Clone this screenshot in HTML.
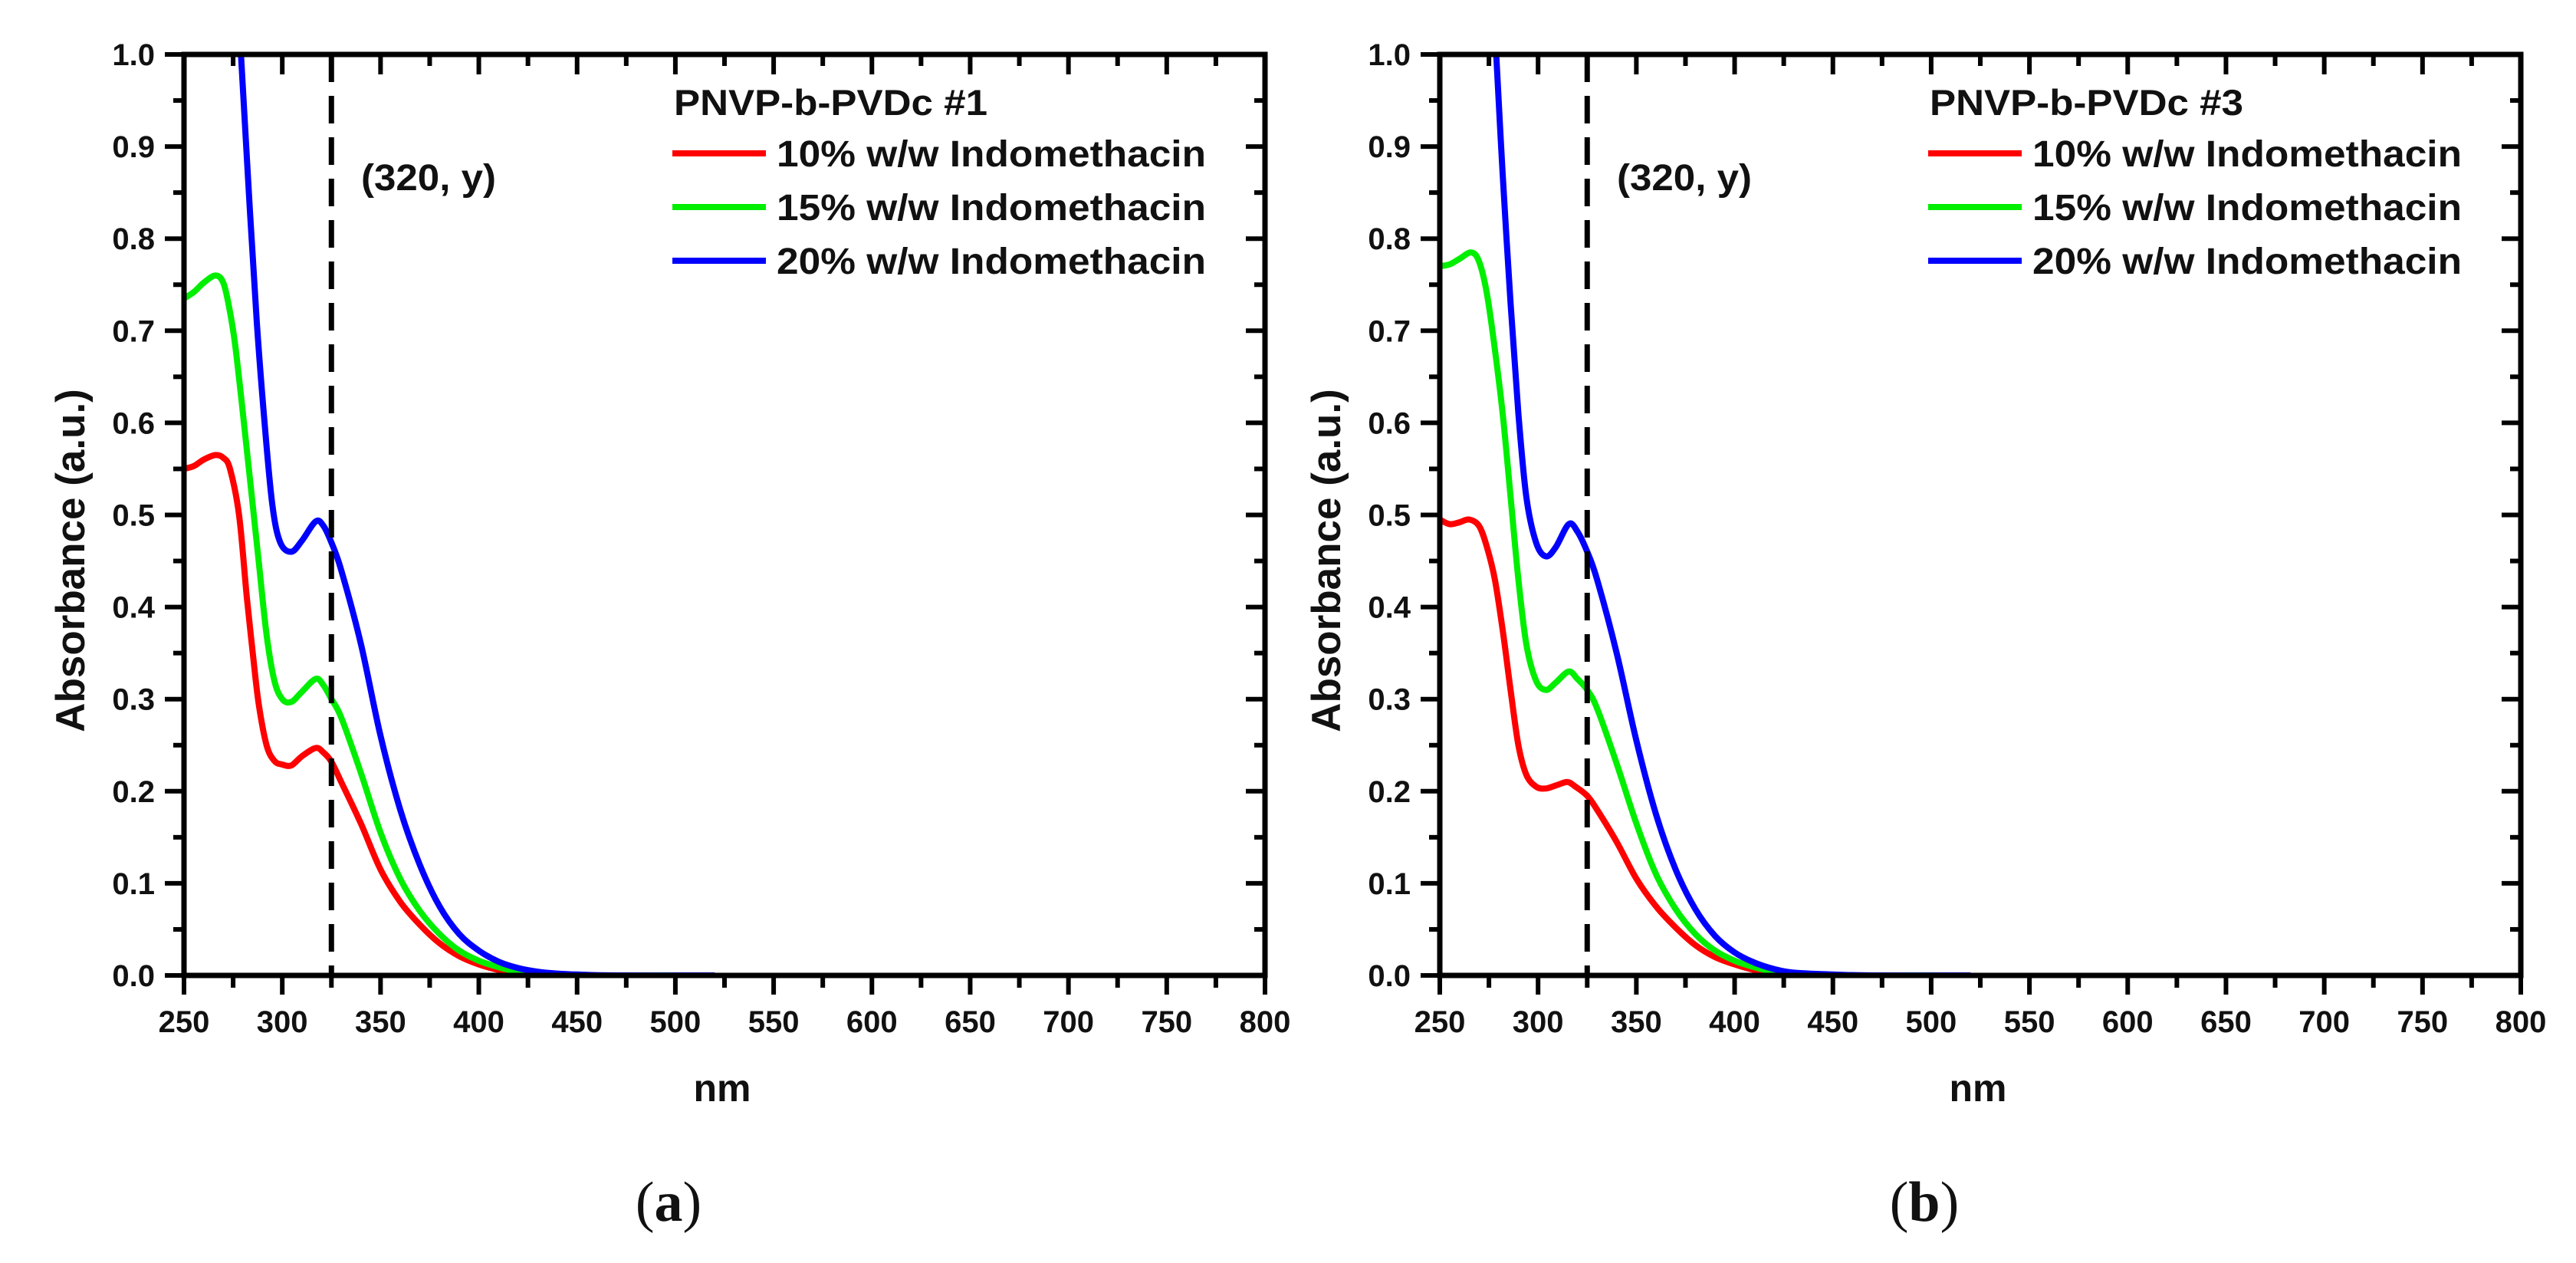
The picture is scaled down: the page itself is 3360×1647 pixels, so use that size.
<!DOCTYPE html>
<html><head><meta charset="utf-8">
<style>
html,body{margin:0;padding:0;background:#fff;}
svg{display:block;}
text{font-family:"Liberation Sans",Arial,sans-serif;font-weight:bold;fill:#111;}
</style></head>
<body>
<svg id="fig" width="3360" height="1647" viewBox="0 0 3360 1647" xmlns="http://www.w3.org/2000/svg"></svg>
<script>
// ---- data ----
const xTicks = [250,300,350,400,450,500,550,600,650,700,750,800];
const yTicks = [0.0,0.1,0.2,0.3,0.4,0.5,0.6,0.7,0.8,0.9,1.0];
const seriesNames = ["10% w/w Indomethacin","15% w/w Indomethacin","20% w/w Indomethacin"];
const seriesColors = ["#ff0000","#00ee00","#0000ff"];
const panelTitles = ["PNVP-b-PVDc #1","PNVP-b-PVDc #3"];
const panelLabels = ["a","b"];
const markerX = 325;

const aRedX = [250,255,260,266,270,273.4,278,282,285,288,292,296,300,304.6,310,317,321,325,330,340,350,360,370,380,390,400,410,420,430,450,480,520];
const aRedY = [0.55,0.553,0.56,0.565,0.562,0.55,0.50,0.41,0.35,0.295,0.25,0.233,0.229,0.228,0.238,0.247,0.242,0.232,0.21,0.165,0.115,0.08,0.055,0.035,0.021,0.012,0.006,0.003,0.001,0,0,0];
const aGreenX = [250,255,260,266,270,273,276,280,284,288,292,296,300,304.6,310,317,321,325,330,340,350,360,370,380,390,400,410,420,430,450,480,520];
const aGreenY = [0.735,0.742,0.752,0.76,0.752,0.725,0.685,0.61,0.53,0.45,0.37,0.32,0.30,0.297,0.308,0.322,0.315,0.30,0.28,0.22,0.155,0.105,0.07,0.045,0.027,0.016,0.009,0.004,0.002,0,0,0];
const aBlueX = [279,283,287,291,295,299,304.6,310,317,321,325,330,340,350,360,370,380,390,400,410,420,430,440,450,470,520];
const aBlueY = [1.0,0.85,0.71,0.6,0.51,0.47,0.46,0.472,0.493,0.488,0.47,0.44,0.36,0.26,0.18,0.12,0.075,0.045,0.027,0.015,0.008,0.004,0.002,0.001,0,0];

const bRedX = [250,255,260,265,270,274,278,282,286,290,294,299,304,310,315,319,325,330,340,350,360,370,380,390,400,410,420,440,480,520];
const bRedY = [0.495,0.49,0.492,0.495,0.488,0.465,0.43,0.375,0.31,0.25,0.218,0.205,0.203,0.207,0.21,0.205,0.195,0.18,0.145,0.105,0.075,0.052,0.033,0.02,0.012,0.006,0.003,0,0,0];
const bGreenX = [250,255,260,266,270,274,278,282,286,290,294,299,304,309,315.6,320,325,330,340,350,360,370,380,390,400,410,420,430,450,480,520];
const bGreenY = [0.77,0.772,0.778,0.785,0.775,0.74,0.68,0.61,0.52,0.43,0.36,0.32,0.31,0.318,0.33,0.322,0.31,0.29,0.23,0.165,0.11,0.072,0.045,0.027,0.016,0.009,0.004,0.002,0,0,0];
const bBlueX = [278.7,282,286,290,294,299,304,309,315.6,320,325,330,340,350,360,370,380,390,400,410,420,430,450,470,520];
const bBlueY = [1.0,0.87,0.73,0.61,0.52,0.47,0.455,0.465,0.49,0.482,0.46,0.43,0.35,0.255,0.175,0.115,0.072,0.043,0.025,0.014,0.007,0.003,0.001,0,0];

const panelSeriesX = [[aRedX,aGreenX,aBlueX],[bRedX,bGreenX,bBlueX]];
const panelSeriesY = [[aRedY,aGreenY,aBlueY],[bRedY,bGreenY,bBlueY]];

// ---- drawing ----
const NS = "http://www.w3.org/2000/svg";
const svg = document.getElementById("fig");
function mk(tag, attrs, parent){
  const e = document.createElementNS(NS, tag);
  for (const k in attrs) e.setAttribute(k, attrs[k]);
  (parent||svg).appendChild(e);
  return e;
}
const PL = [240, 1878], PW = 1410, PT = 71, PB = 1272;
const XMIN = 250, XMAX = 800, YMIN = 0, YMAX = 1;

function smoothPath(pts){
  let d = "M" + pts[0][0].toFixed(1) + "," + pts[0][1].toFixed(1);
  for (let i=0;i<pts.length-1;i++){
    const p0 = pts[Math.max(0,i-1)], p1 = pts[i], p2 = pts[i+1], p3 = pts[Math.min(pts.length-1,i+2)];
    const c1x = p1[0]+(p2[0]-p0[0])/6, c1y = p1[1]+(p2[1]-p0[1])/6;
    const c2x = p2[0]-(p3[0]-p1[0])/6, c2y = p2[1]-(p3[1]-p1[1])/6;
    d += " C"+c1x.toFixed(1)+","+c1y.toFixed(1)+" "+c2x.toFixed(1)+","+c2y.toFixed(1)+" "+p2[0].toFixed(1)+","+p2[1].toFixed(1);
  }
  return d;
}

for (let p=0;p<2;p++){
  const L = PL[p], R = L+PW;
  const sx = v => L + (v-XMIN)/(XMAX-XMIN)*PW;
  const sy = v => PB - (v-YMIN)/(YMAX-YMIN)*(PB-PT);
  const g = mk("g", {});
  
  

  const clipId = "clip"+p;
  const cp = mk("clipPath", {id:clipId}, g);
  mk("rect", {x:L, y:PT, width:PW, height:PB-PT}, cp);

  const sg = mk("g", {"clip-path":"url(#"+clipId+")"}, g);
  for (let s=0;s<3;s++){
    const xs = panelSeriesX[p][s], ys = panelSeriesY[p][s];
    const pts = xs.map((x,i)=>[sx(x), sy(ys[i])]);
    const path = mk("path", {d:smoothPath(pts), fill:"none", stroke:seriesColors[s], "stroke-width":8, "stroke-linejoin":"round"}, sg);
    
    
  }

  const dl = mk("line", {x1:sx(markerX), x2:sx(markerX), y1:PT, y2:PB, stroke:"#000", "stroke-width":7, "stroke-dasharray":"36 18"}, g);
  
  

  const tg = mk("g", {stroke:"#000", "stroke-width":6}, g);
  for (let v=250; v<=800; v+=25){
    const x = sx(v), major = (v%50===0);
    mk("line", {x1:x, x2:x, y1:PB, y2:PB+(major?25:16)}, tg);
    mk("line", {x1:x, x2:x, y1:PT, y2:PT+(major?26:15)}, tg);
  }
  for (let k=0;k<=20;k++){
    const y = sy(k*0.05), major = (k%2===0);
    mk("line", {x1:L, x2:L-(major?25:14), y1:y, y2:y}, tg);
    mk("line", {x1:R, x2:R-(major?25:14), y1:y, y2:y}, tg);
  }
  const fr = mk("rect", {x:L, y:PT, width:PW, height:PB-PT, fill:"none", stroke:"#000", "stroke-width":7}, g);
  
  

  xTicks.forEach(v=>{
    const t = mk("text", {x:sx(v), y:PB+74, "font-size":40, "text-anchor":"middle"}, g);
    t.textContent = String(v);
    
    
  });
  yTicks.forEach(v=>{
    const t = mk("text", {x:L-38, y:sy(v)+14, "font-size":40, "text-anchor":"end"}, g);
    t.textContent = v.toFixed(1);
    
    
  });

  const xt = mk("text", {x:L+702, y:1436, "font-size":50, "text-anchor":"middle"}, g);
  xt.textContent = "nm";
  
  
  const cx = L-148, cy = 731;
  const yt = mk("text", {x:cx, y:cy, "font-size":53, "text-anchor":"middle", transform:"rotate(-90 "+cx+" "+cy+") translate(0 18)"}, g);
  yt.textContent = "Absorbance (a.u.)";
  
  

  const an = mk("text", {x:L+231, y:248, "font-size":48, textLength:176, lengthAdjust:"spacingAndGlyphs"}, g);
  an.textContent = "(320, y)";
  
  

  const lg = mk("g", {}, g);
  
  
  const lt = mk("text", {x:L+639, y:150, "font-size":47, textLength:409, lengthAdjust:"spacingAndGlyphs"}, lg);
  lt.textContent = panelTitles[p];
  
  
  for (let s=0;s<3;s++){
    const y = 200 + s*70;
    const ll = mk("line", {x1:L+637, x2:L+759, y1:y, y2:y, stroke:seriesColors[s], "stroke-width":8}, lg);
    
    
    const tx = mk("text", {x:L+773, y:y+17, "font-size":48, textLength:560, lengthAdjust:"spacingAndGlyphs"}, lg);
    tx.textContent = seriesNames[s];
    
    
  }

  const pl = mk("text", {x:L+632, y:1592, "font-size":74, "text-anchor":"middle", style:"font-family:'Liberation Serif',serif;font-weight:normal"}, g);
  pl.innerHTML = "(<tspan style='font-weight:bold'>"+panelLabels[p]+"</tspan>)";
  
  
}
</script>
</body></html>
